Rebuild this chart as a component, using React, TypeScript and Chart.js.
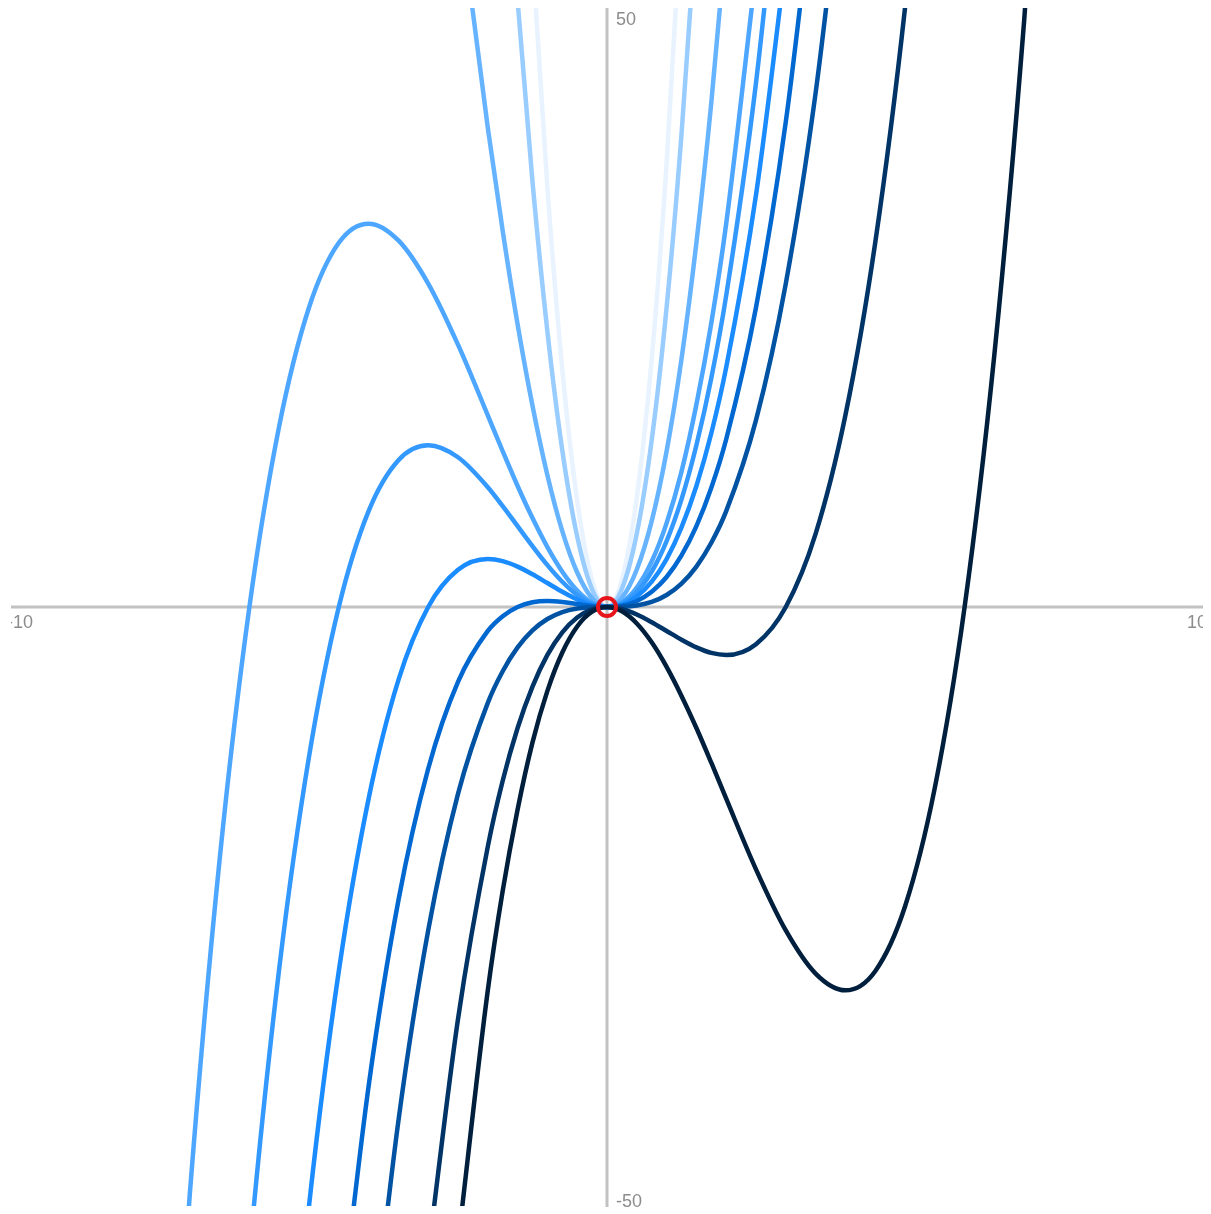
import React, { useEffect, useRef } from "react";
import { Chart, registerables } from "chart.js";

Chart.register(...registerables);

// Shared x sample positions
const XS = [
  -7.5, -7, -6.5, -6, -5.5, -5, -4.5, -4, -3.5, -3, -2.5, -2, -1.75, -1.5, -1.25, -1,
  -0.75, -0.5, -0.25, 0, 0.25, 0.5, 0.75, 1, 1.25, 1.5, 1.75, 2, 2.5, 3, 3.5, 4, 4.5,
  5, 5.5, 6, 6.5, 7, 7.5,
];

// Curve values (null = not drawn at that x)
const CURVE_A = [
  null, null, null, null, null, null, null, null, null, null, null, null, null,
  77.6, 54.3, 35, 19.83, 8.88, 2.23, 0, 2.27, 9.13, 20.67, 37, 58.2, 84.4,
  null, null, null, null, null, null, null, null, null, null, null, null, null,
];
const CURVE_B = [
  null, null, null, null, null, null, null, null, null, null, null, null,
  68.1, 50.6, 35.5, 23, 13.08, 5.88, 1.48, 0, 1.52, 6.13, 13.92, 25, 39.45, 57.4,
  null, null, null, null, null, null, null, null, null, null, null, null, null,
];
const CURVE_C = [
  null, null, null, null, null, null, null, null, null, null,
  59.4, 40, 31.4, 23.6, 16.8, 11, 6.33, 2.88, 0.73, 0, 0.77, 3.13, 7.17, 13, 20.7, 30.4, 42.1, 56,
  null, null, null, null, null, null, null, null, null, null, null,
];
const CURVE_D = [
  -84.4, -49, -21.1, 0, 15.1, 25, 30.4, 32, 30.6, 27, 21.9, 16, 13.0, 10.1, 7.42, 5,
  2.95, 1.375, 0.36, 0, 0.39, 1.625, 3.8, 7, 11.3, 16.9, 23.7, 32, 53.1,
  null, null, null, null, null, null, null, null, null, null,
];
const CURVE_E = [
  null, null,
  -84.5, -54, -30.2, -12.5, 0, 8, 12.25, 13.5, 12.5, 10, 8.42, 6.75, 5.08, 3.5, 2.11, 1.0,
  0.27, 0, 0.3, 1.25, 2.95, 5.5, 8.98, 13.5, 19.1, 26, 43.75, 67.5,
  null, null, null, null, null, null, null, null, null,
];
const CURVE_F = [
  null, null, null, null,
  -75.6, -50, -30.4, -16, -6.1, 0, 3.1, 4, 3.83, 3.375, 2.73, 2, 1.27, 0.625, 0.17, 0,
  0.2, 0.875, 2.11, 4, 6.64, 10.1, 14.5, 20, 34.4, 54,
  null, null, null, null, null, null, null, null, null,
];
const CURVE_G = [
  null, null, null, null, null, null,
  -60.75, -40, -24.5, -13.5, -6.25, -2, -0.77, 0, 0.39, 0.5, 0.42, 0.25, 0.08, 0,
  0.11, 0.5, 1.27, 2.5, 4.3, 6.75, 9.95, 14, 25, 40.5, 61.3,
  null, null, null, null, null, null, null, null,
];
const CURVE_H = [
  null, null, null, null, null, null, null,
  -64, -42.9, -27, -15.6, -8, -5.36, -3.375, -1.95, -1, -0.42, -0.125, -0.016, 0,
  0.016, 0.125, 0.42, 1, 1.95, 3.375, 5.36, 8, 15.6, 27, 42.9, 64,
  null, null, null, null, null, null, null,
];
const CURVE_I = [
  null, null, null, null, null, null, null, null, null,
  -54, -34.4, -20, -14.5, -10.1, -6.64, -4, -2.11, -0.875, -0.2, 0, -0.17, -0.625,
  -1.27, -2, -2.73, -3.375, -3.83, -4, -3.1, 0, 6.1, 16, 30.4, 50, 75.6,
  null, null, null, null,
];
const CURVE_J = [
  null, null, null, null, null, null, null, null, null, null,
  -53.1, -32, -23.7, -16.9, -11.3, -7, -3.8, -1.625, -0.39, 0, -0.36, -1.375, -2.95,
  -5, -7.42, -10.1, -13.0, -16, -21.9, -27, -30.6, -32, -30.4, -25, -15.1, 0, 21.1, 49, 84.4,
];

const CURVES = [CURVE_A, CURVE_B, CURVE_C, CURVE_D, CURVE_E, CURVE_F, CURVE_G, CURVE_H, CURVE_I, CURVE_J];
const CURVE_COLORS = [
  "#e8f3ff", "#99ccff", "#66b3ff", "#4da6ff", "#3399ff",
  "#1a8cff", "#0068d0", "#0052a3", "#003366", "#001f3d",
];

const X_MIN = -10;
const X_MAX = 10;
const Y_MIN = -50;
const Y_MAX = 50;
const X_LABELS = ["-10", "10"];
const Y_LABELS = ["50", "-50"];

const axesPlugin = {
  id: "centerAxes",
  beforeDatasetsDraw(chart: any) {
    const { ctx, chartArea, scales } = chart;
    const x0 = scales.x.getPixelForValue(0);
    const y0 = scales.y.getPixelForValue(0);
    ctx.save();
    ctx.strokeStyle = "#c2c2c2";
    ctx.lineWidth = 3;
    ctx.beginPath();
    ctx.moveTo(chartArea.left, y0);
    ctx.lineTo(chartArea.right, y0);
    ctx.moveTo(x0, chartArea.top);
    ctx.lineTo(x0, chartArea.bottom + 1);
    ctx.stroke();

    ctx.fillStyle = "#8c8c8c";
    ctx.font = "18px Arial, 'Liberation Sans', sans-serif";
    ctx.textBaseline = "alphabetic";
    ctx.textAlign = "left";
    // x labels clipped to the plot area
    ctx.save();
    ctx.beginPath();
    ctx.rect(chartArea.left, 0, chartArea.right - chartArea.left, chart.height);
    ctx.clip();
    ctx.fillText(X_LABELS[0], scales.x.getPixelForValue(X_MIN) - 4, y0 + 21);
    ctx.fillText(X_LABELS[1], scales.x.getPixelForValue(X_MAX) - 16, y0 + 21);
    ctx.restore();
    ctx.fillText(Y_LABELS[0], x0 + 9, scales.y.getPixelForValue(Y_MAX) + 17);
    ctx.fillText(Y_LABELS[1], x0 + 9, scales.y.getPixelForValue(Y_MIN) + 1);
    ctx.restore();
  },
};

export default function App() {
  const ref = useRef<HTMLCanvasElement | null>(null);
  useEffect(() => {
    if (!ref.current) return;
    const datasets: any[] = CURVES.map((ys, i) => ({
      data: XS.map((x, j) => ({ x, y: ys[j] })),
      borderColor: CURVE_COLORS[i],
      borderWidth: 4.5,
      pointRadius: 0,
      showLine: true,
      fill: false,
      cubicInterpolationMode: "monotone",
      order: CURVES.length - i + 1,
    }));
    datasets.push({
      data: [{ x: 0, y: 0 }],
      showLine: false,
      pointRadius: 9,
      pointBorderWidth: 4,
      pointBorderColor: "#e8141c",
      pointBackgroundColor: "rgba(0,0,0,0)",
      order: 0,
    });
    const chart = new Chart(ref.current, {
      type: "scatter",
      data: { datasets },
      plugins: [axesPlugin],
      options: {
        animation: false,
        responsive: false,
        maintainAspectRatio: false,
        layout: { autoPadding: false, padding: { left: 11, right: 8, top: 8, bottom: 8 } },
        plugins: { legend: { display: false }, tooltip: { enabled: false } },
        scales: {
          x: { type: "linear", min: X_MIN, max: X_MAX, display: false },
          y: { type: "linear", min: Y_MIN, max: Y_MAX, display: false },
        },
      },
    });
    return () => chart.destroy();
  }, []);
  return (
    <div style={{ position: "absolute", left: 0, top: 0, width: 1211, height: 1214, background: "#fff" }}>
      <canvas ref={ref} width={1211} height={1214} style={{ width: 1211, height: 1214 }} />
    </div>
  );
}
